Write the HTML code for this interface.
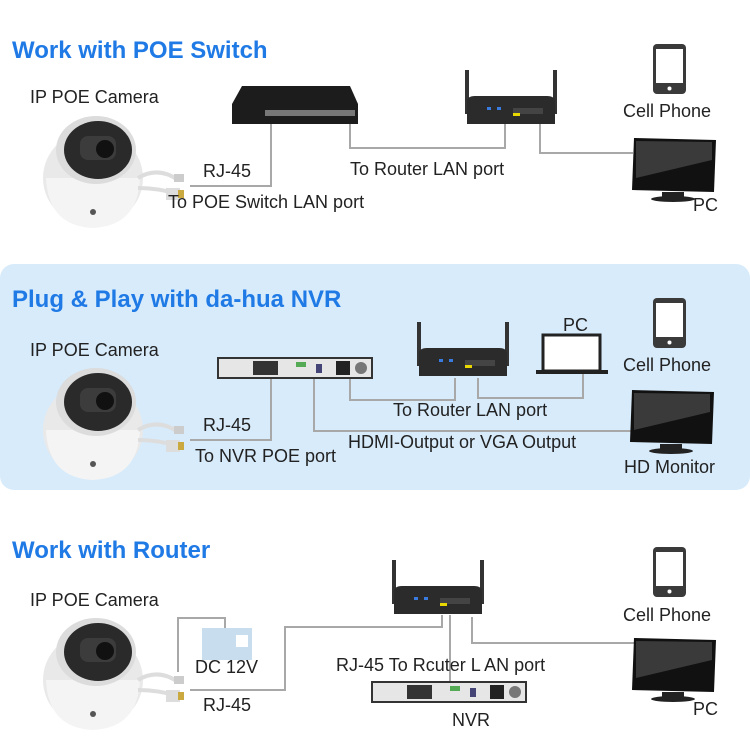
<!DOCTYPE html>
<html><head><meta charset="utf-8"><style>
html,body{margin:0;padding:0;background:#fff}
svg{display:block}
text{font-family:"Liberation Sans",sans-serif;fill:#222}
.t{font-size:24px;font-weight:bold;fill:#1f7ae6}
.l{font-size:18px}
.w{fill:none;stroke:#a8a8a8;stroke-width:2}
</style></head><body>
<svg width="750" height="750" viewBox="0 0 750 750" xmlns="http://www.w3.org/2000/svg">
<defs>
<g id="cam">
 <ellipse cx="55" cy="70" rx="50" ry="48" fill="#e9e9e9"/>
 <path d="M8 70 Q10 118 55 120 Q100 118 102 70 Z" fill="#f4f4f4"/>
 <ellipse cx="58" cy="42" rx="40" ry="34" fill="#dcdcdc"/>
 <ellipse cx="60" cy="42" rx="34" ry="29" fill="#2a2a2a"/>
 <rect x="42" y="28" width="36" height="24" rx="8" fill="#3c3c3c"/>
 <circle cx="67" cy="41" r="9" fill="#111"/>
 <circle cx="55" cy="104" r="3" fill="#555"/>
 <path d="M100 70 Q120 58 140 72" stroke="#ddd" stroke-width="4" fill="none"/>
 <path d="M100 80 Q120 80 140 86" stroke="#ddd" stroke-width="4" fill="none"/>
 <rect x="128" y="80" width="14" height="12" fill="#ddd"/><rect x="140" y="82" width="6" height="8" fill="#c9a940"/>
 <rect x="136" y="66" width="10" height="8" fill="#ccc"/>
</g>
<g id="phone">
 <rect x="0" y="0" width="33" height="50" rx="4" fill="#3a3a3a"/>
 <rect x="3" y="5" width="27" height="34" fill="#fff"/>
 <circle cx="16.5" cy="44.5" r="2" fill="#fff"/>
</g>
<g id="mon">
 <path d="M2 0 L84 2 L82 54 L0 52 Z" fill="#111"/>
 <path d="M4 3 L80 4 L80 22 L4 40 Z" fill="#3a3a3a"/>
 <rect x="30" y="54" width="22" height="6" fill="#222"/>
 <ellipse cx="41" cy="61" rx="22" ry="3" fill="#222"/>
</g>
<g id="router">
 <rect x="2" y="0" width="4" height="44" fill="#333"/>
 <rect x="90" y="0" width="4" height="44" fill="#333"/>
 <path d="M4 32 Q4 26 12 26 L84 26 Q92 26 92 32 L92 54 L4 54 Z" fill="#2b2b2b"/>
 <rect x="50" y="38" width="30" height="6" fill="#444"/>
 <rect x="50" y="43" width="7" height="3" fill="#e8d800"/>
 <rect x="24" y="37" width="4" height="3" fill="#3a7be0"/><rect x="34" y="37" width="4" height="3" fill="#3a7be0"/>
</g>
<g id="nvr">
 <rect x="0" y="0" width="154" height="20" fill="#e6e6e6" stroke="#333" stroke-width="2"/>
 <rect x="35" y="3" width="25" height="14" fill="#333"/>
 <rect x="78" y="4" width="10" height="5" fill="#5a5"/>
 <rect x="98" y="6" width="6" height="9" fill="#447"/>
 <rect x="118" y="3" width="14" height="14" fill="#222"/>
 <circle cx="143" cy="10" r="6" fill="#777"/>
</g>
</defs>

<!-- Section 1 -->
<text class="t" x="12" y="58">Work with POE Switch</text>
<text class="l" x="30" y="103">IP POE Camera</text>
<use href="#cam" x="38" y="108"/>
<path d="M232 104 L242 86 L350 86 L358 104 L358 124 L232 124 Z" fill="#1c1c1c"/>
<rect x="265" y="110" width="90" height="6" fill="#777"/>
<polyline class="w" points="190,186 271,186 271,124"/>
<polyline class="w" points="350,124 350,148 505,148 505,124"/>
<polyline class="w" points="540,124 540,153 633,153"/>
<use href="#router" x="463" y="70"/>
<text class="l" x="203" y="177">RJ-45</text>
<text class="l" x="168" y="208">To POE Switch LAN port</text>
<text class="l" x="350" y="175">To Router LAN port</text>
<use href="#phone" x="653" y="44"/>
<text class="l" x="623" y="117">Cell Phone</text>
<use href="#mon" x="632" y="138"/>
<text class="l" x="693" y="211">PC</text>

<!-- Section 2 -->
<rect x="0" y="264" width="750" height="226" rx="14" fill="#d7ebfb"/>
<text class="t" x="12" y="307">Plug &amp; Play with da-hua NVR</text>
<text class="l" x="30" y="356">IP POE Camera</text>
<use href="#cam" x="38" y="360"/>
<use href="#nvr" x="218" y="358"/>
<polyline class="w" points="190,440 271,440 271,379"/>
<polyline class="w" points="314,379 314,431 632,431"/>
<polyline class="w" points="350,379 350,400 455,400 455,378"/>
<polyline class="w" points="478,378 478,398 583,398 583,372"/>
<use href="#router" x="415" y="322"/>
<rect x="543" y="335" width="57" height="36" fill="#fff" stroke="#222" stroke-width="3"/>
<rect x="536" y="370" width="72" height="4" fill="#222"/>
<text class="l" x="563" y="331">PC</text>
<use href="#phone" x="653" y="298"/>
<text class="l" x="623" y="371">Cell Phone</text>
<use href="#mon" x="630" y="390"/>
<text class="l" x="624" y="473">HD Monitor</text>
<text class="l" x="203" y="431">RJ-45</text>
<text class="l" x="195" y="462">To NVR POE port</text>
<text class="l" x="393" y="416">To Router LAN port</text>
<text class="l" x="348" y="448">HDMI-Output or VGA Output</text>

<!-- Section 3 -->
<text class="t" x="12" y="558">Work with Router</text>
<text class="l" x="30" y="606">IP POE Camera</text>
<use href="#cam" x="38" y="610"/>
<polyline class="w" points="178,672 178,618 225,618 225,628"/>
<rect x="202" y="628" width="50" height="32" fill="#c8ddee"/>
<rect x="236" y="635" width="12" height="12" fill="#fff"/>
<polyline class="w" points="190,690 285,690 285,627 442,627 442,615"/>
<polyline class="w" points="450,615 450,682"/>
<polyline class="w" points="472,617 472,643 636,643"/>
<use href="#router" x="390" y="560"/>
<text class="l" x="195" y="673">DC 12V</text>
<text class="l" x="203" y="711">RJ-45</text>
<text class="l" x="336" y="671">RJ-45 To Rcuter L AN port</text>
<use href="#nvr" x="372" y="682"/>
<text class="l" x="452" y="726">NVR</text>
<use href="#phone" x="653" y="547"/>
<text class="l" x="623" y="621">Cell Phone</text>
<use href="#mon" x="632" y="638"/>
<text class="l" x="693" y="715">PC</text>
</svg>
</body></html>
